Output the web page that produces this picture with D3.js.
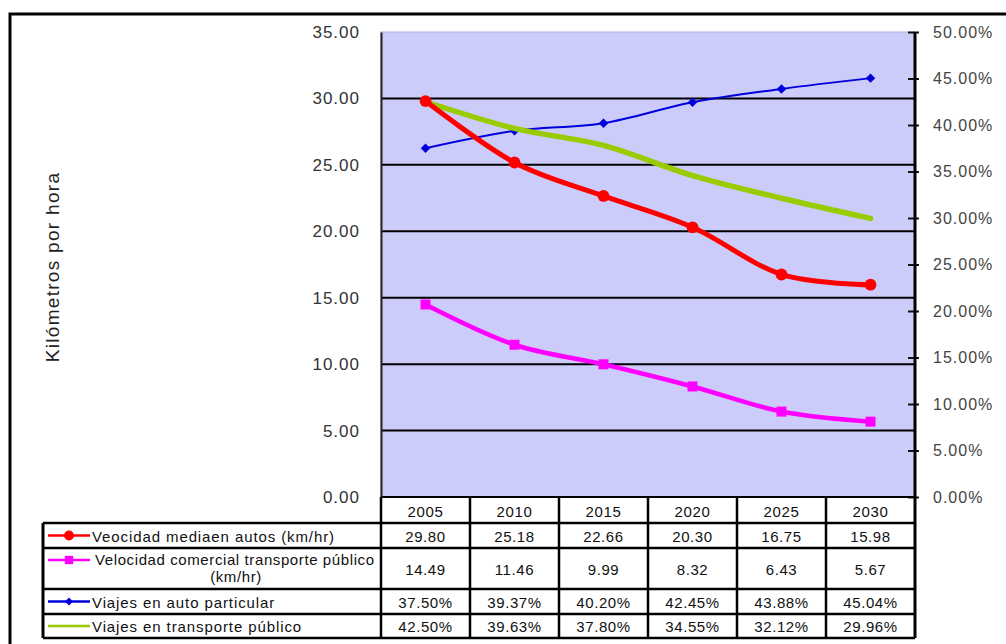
<!DOCTYPE html>
<html>
<head>
<meta charset="utf-8">
<script src="https://cdn.jsdelivr.net/npm/d3@7"></script>
<style>
  body { margin: 0; background: #fff; }
  text { font-family: "Liberation Sans", Arial, sans-serif; }
</style>
</head>
<body>
<div class="graph"></div>
<script>
// data
var years = ['2005', '2010', '2015', '2020', '2025', '2030'];
var velAutos = [29.80, 25.18, 22.66, 20.30, 16.75, 15.98];
var velTransporte = [14.49, 11.46, 9.99, 8.32, 6.43, 5.67];
var viajesAuto = [37.50, 39.37, 40.20, 42.45, 43.88, 45.04];
var viajesTransporte = [42.50, 39.63, 37.80, 34.55, 32.12, 29.96];
var leftTicks = [0, 5, 10, 15, 20, 25, 30, 35];
var rightTicks = [0, 5, 10, 15, 20, 25, 30, 35, 40, 45, 50];

var seriesNames = [
  ['Veocidad mediaen autos (km/hr)'],
  ['Velocidad comercial transporte público', '(km/hr)'],
  ['Viajes en auto particular'],
  ['Viajes en transporte público']
];

// size and plot box
var basewidth = 1006, baseheight = 644;
var plot = { left: 381, right: 915, top: 32, bottom: 497 };

var svg = d3.select('.graph')
  .append('svg')
  .attr('width', basewidth)
  .attr('height', baseheight);

// outer frame
svg.append('rect')
  .attr('x', 10).attr('y', 14)
  .attr('width', 1020).attr('height', 660)
  .style('fill', 'none')
  .style('stroke', 'black')
  .style('stroke-width', 3);

var x = d3.scaleBand().domain(years).range([plot.left, plot.right]);
var y = d3.scaleLinear().domain([0, 35]).range([plot.bottom, plot.top]);
var y2 = d3.scaleLinear().domain([0, 50]).range([plot.bottom, plot.top]);

// plot background
svg.append('rect')
  .attr('x', plot.left).attr('y', plot.top)
  .attr('width', plot.right - plot.left)
  .attr('height', plot.bottom - plot.top)
  .style('fill', '#ccccfa')
  .style('stroke', '#b0b0d8')
  .style('stroke-width', 1);

// gridlines
svg.append('g').selectAll('line')
  .data(leftTicks.filter(function(d) { return d > 0 && d < 35; }))
  .enter().append('line')
  .attr('x1', plot.left).attr('x2', plot.right)
  .attr('y1', function(d) { return y(d); })
  .attr('y2', function(d) { return y(d); })
  .style('stroke', 'black')
  .style('stroke-width', 2);

// left axis
var leftAxis = svg.append('g')
  .attr('transform', 'translate(' + plot.left + ',0)')
  .call(d3.axisLeft(y).tickValues(leftTicks).tickSize(0).tickPadding(21).tickFormat(d3.format('.2f')));
leftAxis.select('.domain').style('stroke', '#222').style('stroke-width', 2);
leftAxis.selectAll('text')
  .style('font-size', '17px')
  .style('letter-spacing', '1px')
  .style('fill', '#333');

// right axis
var rightAxis = svg.append('g')
  .attr('transform', 'translate(908,0)')
  .call(d3.axisRight(y2).tickValues(rightTicks).tickSize(11).tickPadding(14)
    .tickFormat(function(d) { return d3.format('.2f')(d) + '%'; }));
rightAxis.select('.domain').remove();
rightAxis.selectAll('line').style('stroke', '#111').style('stroke-width', 2);
rightAxis.selectAll('text')
  .style('font-size', '16px')
  .style('letter-spacing', '1px')
  .style('fill', '#444');
svg.append('line')
  .attr('x1', plot.right).attr('x2', plot.right)
  .attr('y1', plot.top).attr('y2', 638)
  .style('stroke', 'black').style('stroke-width', 3);

// y title
svg.append('text')
  .attr('transform', 'translate(59,267) rotate(-90)')
  .attr('text-anchor', 'middle')
  .style('font-size', '19px')
  .style('letter-spacing', '1.3px')
  .style('fill', '#222')
  .text('Kilómetros por hora');

// lines
var cx = function(d, i) { return x(years[i]) + x.bandwidth() / 2; };
var curve = d3.curveCardinal.tension(0);

var series = [
  { values: velAutos, scale: y, color: '#ff0000', width: 5, marker: 'circle' },
  { values: velTransporte, scale: y, color: '#ff00ff', width: 4.5, marker: 'square' },
  { values: viajesAuto, scale: y2, color: '#0000dd', width: 2, marker: 'diamond' },
  { values: viajesTransporte, scale: y2, color: '#99cc00', width: 5.5, marker: null }
];

var symbols = { circle: d3.symbolCircle, square: d3.symbolSquare, diamond: d3.symbolSquare };
var symSize = { circle: 110, square: 100, diamond: 45 };
var symRot = { circle: 0, square: 0, diamond: 45 };

// drawing order as in the picture: blue, green, red, magenta
var order = [2, 3, 0, 1];
order.forEach(function(k) {
  var s = series[k];
  var line = d3.line()
    .x(cx)
    .y(function(d) { return s.scale(d); })
    .curve(curve);
  svg.append('path')
    .datum(s.values)
    .attr('d', line)
    .style('fill', 'none')
    .style('stroke', s.color)
    .style('stroke-width', s.width)
    .style('stroke-linejoin', 'round')
    .style('stroke-linecap', 'round');
  if (s.marker) {
    svg.append('g').selectAll('path')
      .data(s.values)
      .enter().append('path')
      .attr('transform', function(d, i) {
        return 'translate(' + cx(d, i) + ',' + s.scale(d) + ') rotate(' + symRot[s.marker] + ')';
      })
      .attr('d', d3.symbol().type(symbols[s.marker]).size(symSize[s.marker]))
      .style('fill', s.color);
  }
});

// data table
var tableLeft = 43;
var rowEdges = [plot.bottom, 523, 548, 589, 614, 638];
var cellFont = '15px';

// year row
svg.append('g').selectAll('text')
  .data(years)
  .enter().append('text')
  .attr('x', function(d) { return x(d) + x.bandwidth() / 2; })
  .attr('y', 517)
  .attr('text-anchor', 'middle')
  .style('font-size', cellFont)
  .style('letter-spacing', '0.6px')
  .style('fill', '#111')
  .text(function(d) { return d; });

var rowValues = [
  velAutos.map(function(d) { return d3.format('.2f')(d); }),
  velTransporte.map(function(d) { return d3.format('.2f')(d); }),
  viajesAuto.map(function(d) { return d3.format('.2f')(d) + '%'; }),
  viajesTransporte.map(function(d) { return d3.format('.2f')(d) + '%'; })
];

rowValues.forEach(function(vals, r) {
  var mid = (rowEdges[r + 1] + rowEdges[r + 2]) / 2;
  svg.append('g').selectAll('text')
    .data(vals)
    .enter().append('text')
    .attr('x', function(d, i) { return x(years[i]) + x.bandwidth() / 2; })
    .attr('y', mid + 6)
    .attr('text-anchor', 'middle')
    .style('font-size', cellFont)
    .style('letter-spacing', '0.6px')
    .style('fill', '#111')
    .text(function(d) { return d; });

  // legend key
  var s = series[r];
  var ky = r === 1 ? rowEdges[r + 1] + 12 : mid;
  svg.append('line')
    .attr('x1', 48).attr('x2', 90)
    .attr('y1', ky).attr('y2', ky)
    .style('stroke', s.color)
    .style('stroke-width', 2.5);
  if (s.marker) {
    svg.append('path')
      .attr('transform', 'translate(69,' + ky + ') rotate(' + symRot[s.marker] + ')')
      .attr('d', d3.symbol().type(symbols[s.marker]).size(symSize[s.marker] * 0.7))
      .style('fill', s.color);
  }
  var lines = seriesNames[r];
  if (lines.length === 1) {
    svg.append('text')
      .attr('x', 92).attr('y', mid + 6)
      .style('font-size', cellFont)
      .style('letter-spacing', '0.9px')
      .style('fill', '#111')
      .text(lines[0]);
  } else {
    svg.append('text')
      .attr('x', 95).attr('y', ky + 5)
      .style('font-size', cellFont)
      .style('letter-spacing', '0.6px')
      .style('fill', '#111')
      .text(lines[0]);
    svg.append('text')
      .attr('x', 236).attr('y', ky + 22)
      .attr('text-anchor', 'middle')
      .style('font-size', cellFont)
      .style('letter-spacing', '0.6px')
      .style('fill', '#111')
      .text(lines[1]);
  }
});

// table grid
var grid = svg.append('g').style('stroke', 'black');
rowEdges.slice(1).forEach(function(yy) {
  grid.append('line')
    .attr('x1', tableLeft).attr('x2', plot.right)
    .attr('y1', yy).attr('y2', yy)
    .style('stroke-width', 2.5);
});
years.forEach(function(d) {
  grid.append('line')
    .attr('x1', x(d)).attr('x2', x(d))
    .attr('y1', plot.bottom).attr('y2', 638)
    .style('stroke-width', 2.5);
});
grid.append('line')
  .attr('x1', tableLeft).attr('x2', tableLeft)
  .attr('y1', 523).attr('y2', 638)
  .style('stroke-width', 3);
grid.append('line')
  .attr('x1', plot.left).attr('x2', plot.right)
  .attr('y1', plot.bottom).attr('y2', plot.bottom)
  .style('stroke-width', 2);
</script>
</body>
</html>
